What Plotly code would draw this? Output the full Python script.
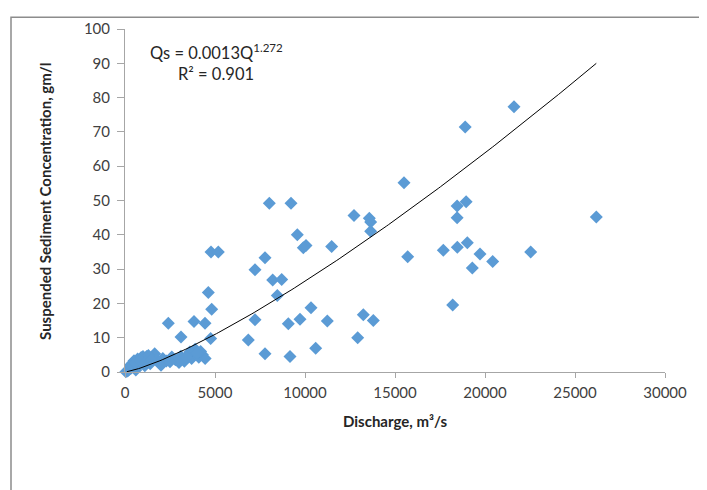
import numpy as np
import plotly.graph_objects as go

# Discharge (m3/s) and suspended sediment concentration (gm/l)
discharge = [
    21611, 18900, 15500, 18450, 18950, 18450, 26183, 17685, 18463, 19017,
    19722, 20428, 19296, 22539, 18205, 15704, 8019, 9222, 12722, 13574,
    13648, 13648, 9574, 10056, 9907, 11481, 4778, 5185, 7778, 7222,
    8204, 8704, 4630, 8463, 4815, 2407, 3833, 4444, 3111, 4759,
    6852, 7222, 7778, 9074, 9722, 10333, 11241, 13241, 13796, 12926,
    9167, 10593,
    # dense low-flow cluster
    50, 150, 250, 350, 400, 500, 600, 700, 800, 900,
    1000, 1100, 1200, 1300, 1400, 1500, 1650, 1800, 1900, 2100,
    2300, 2600, 2800, 3100, 3300, 3500, 3700, 3900, 3950, 4100,
    4300, 4450, 4200, 3600, 3000, 600, 300, 1000, 1300, 2000,
    550, 850, 1150, 1450, 2500, 3400, 4000,
]
concentration = [
    77.3, 71.4, 55.2, 48.4, 49.6, 45.0, 45.2, 35.5, 36.4, 37.7,
    34.4, 32.2, 30.3, 35.0, 19.5, 33.6, 49.2, 49.2, 45.6, 44.8,
    43.7, 41.0, 40.0, 36.9, 36.2, 36.6, 35.0, 35.0, 33.3, 29.8,
    26.8, 27.0, 23.2, 22.3, 18.3, 14.2, 14.7, 14.2, 10.2, 9.8,
    9.3, 15.2, 5.3, 14.1, 15.4, 18.7, 14.9, 16.7, 15.0, 10.0,
    4.5, 6.9,
    0.1, 0.3, 0.8, 1.2, 2.5, 3.3, 1.5, 3.8, 2.2, 4.2,
    3.0, 1.8, 4.5, 3.2, 2.4, 4.0, 5.3, 3.5, 2.8, 3.9,
    3.2, 4.4, 3.6, 4.6, 3.1, 4.9, 3.9, 6.6, 5.2, 4.3,
    5.0, 3.9, 6.0, 5.8, 2.8, 0.6, 2.0, 4.5, 4.8, 2.0,
    2.6, 3.4, 2.9, 3.6, 3.0, 4.2, 5.6,
]

# power trendline as drawn in the chart
TREND_COEF = 0.000216
TREND_EXP = 1.272
trend_x = np.linspace(100, max(discharge), 200)
trend_y = TREND_COEF * trend_x ** TREND_EXP

x_ticks = [0, 5000, 10000, 15000, 20000, 25000, 30000]
y_ticks = [0, 10, 20, 30, 40, 50, 60, 70, 80, 90, 100]

FONT = "Lato"
AXIS_GRAY = "#a6a6a6"
TEXT = "#262626"

# the page body adds an 8px offset; plot area should sit at x 125-665, y 19-372 on screen
L, R, T, B = 117, 50, 11, 126
PW = 707 - L - R
PH = 490 - T - B


def px(xs):
    return (xs - 125) / PW


def py(ys):
    return (372 - ys) / PH


fig = go.Figure()
fig.add_trace(go.Scatter(
    x=discharge, y=concentration, mode="markers",
    marker=dict(symbol="diamond", size=10, color="#5b9bd5", line=dict(width=0)),
    cliponaxis=False, showlegend=False,
))
fig.add_trace(go.Scatter(
    x=trend_x, y=trend_y, mode="lines",
    line=dict(color="#000000", width=1), showlegend=False,
))

fig.update_layout(
    width=707, height=490,
    margin=dict(l=L, r=R, t=T, b=B),
    paper_bgcolor="white", plot_bgcolor="white",
    font=dict(family=FONT, size=13, color="#404040"),
    xaxis=dict(
        range=[0, 30000], tickvals=x_ticks, ticktext=[str(v) for v in x_ticks],
        showgrid=False, zeroline=False, showline=True, linecolor=AXIS_GRAY,
        linewidth=1, ticks="outside", ticklen=5, tickcolor=AXIS_GRAY,
        ticklabelstandoff=2,
        tickfont=dict(size=15, color="#404040"),
    ),
    yaxis=dict(
        range=[0, 100], tickvals=y_ticks,
        showgrid=False, zeroline=False, showline=True, linecolor=AXIS_GRAY,
        linewidth=1, ticks="outside", ticklen=7, tickcolor=AXIS_GRAY,
        ticklabelstandoff=4,
        tickfont=dict(size=15, color="#404040"),
    ),
    annotations=[
        dict(text="Qs = 0.0013Q<sup>1.272</sup>", x=px(216), y=py(43),
             xref="paper", yref="paper", xanchor="center", yanchor="middle",
             showarrow=False, font=dict(size=16.5, color=TEXT)),
        dict(text="R² = 0.901", x=px(216), y=py(65),
             xref="paper", yref="paper", xanchor="center", yanchor="middle",
             showarrow=False, font=dict(size=16.5, color=TEXT)),
        dict(text="<b>Discharge, m³/s</b>", x=px(395), y=py(422),
             xref="paper", yref="paper", xanchor="center", yanchor="middle",
             showarrow=False, font=dict(size=15, color=TEXT)),
        dict(text="<b>Suspended Sediment Concentration, gm/l</b>",
             x=px(45), y=py(197), textangle=-90,
             xref="paper", yref="paper", xanchor="center", yanchor="middle",
             showarrow=False, font=dict(size=15, color=TEXT)),
    ],
    shapes=[
        dict(type="rect", xref="paper", yref="paper",
             x0=px(11), x1=px(701), y0=py(530), y1=py(7),
             line=dict(color="#8c8c8c", width=1.5), layer="below"),
    ],
)

fig.write_html("out.html")
